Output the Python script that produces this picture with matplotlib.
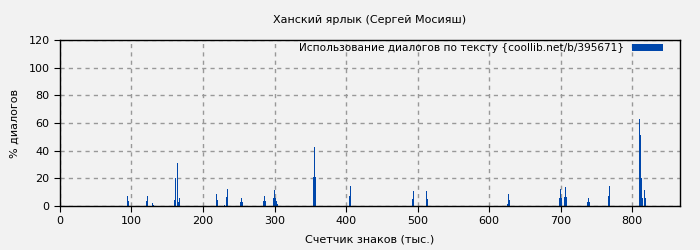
import matplotlib
matplotlib.use("Agg")
import matplotlib.pyplot as plt

# bar positions (thousands of chars) and dialogue share (%)
positions = [93.7, 95, 120, 121.5, 129, 130, 160, 161.5, 163, 164, 165.5, 167,
             217.5, 219, 230, 232, 233.5, 252, 253, 254.5, 284, 285.5, 287,
             298, 299.5, 301, 302, 303.5, 354, 355, 356.5, 404, 405.5,
             492.3, 493.7, 512, 513.5, 625, 626.5, 628,
             698, 699.3, 700.7, 705, 706.3, 707.7, 737, 738.5, 740,
             766.4, 767.8, 810, 811.5, 813, 814.5, 816, 817.5]
values = [7, 3.6, 3.6, 7, 2.2, 0.7, 4.3, 20, 31, 15, 2.9, 5.8,
          8.7, 4.3, 0.7, 6.5, 12.3, 2.9, 5.8, 2.9, 3.6, 7.2, 3.6,
          5.8, 11.6, 5.8, 3.6, 1.4, 21, 42.7, 21, 7.2, 14.5,
          5, 10.8, 10.8, 5, 1.4, 8.7, 4.3,
          5.8, 12.3, 5.8, 6.5, 13.7, 6.5, 2.9, 5.8, 2.9,
          7.2, 14.5, 63, 51.6, 20.2, 5.8, 11.6, 5.8]

title = "Ханский ярлык (Сергей Мосияш)"
legend_label = "Использование диалогов по тексту {coollib.net/b/395671}"
xticks = [0, 100, 200, 300, 400, 500, 600, 700, 800]
yticks = [0, 20, 40, 60, 80, 100, 120]

bg = "#f2f2f2"
fig = plt.figure(figsize=(7, 2.5), dpi=100, facecolor=bg)
ax = fig.add_axes([0.0857, 0.176, 0.8857, 0.664], facecolor=bg)

ax.bar(positions, values, width=1.4, color="#0047ab", align="edge",
       linewidth=0, label=legend_label)

ax.set_xlim(0, 867)
ax.set_ylim(0, 120)
ax.set_xticks(xticks)
ax.set_yticks(yticks)
ax.grid(True, color="#999999", linestyle=(0, (3, 3)), linewidth=1)
ax.set_axisbelow(True)
ax.tick_params(labelsize=8, length=4, direction="out")
for s in ax.spines.values():
    s.set_linewidth(1)
    s.set_color("black")

ax.set_title(title, fontsize=8, pad=12)
ax.set_xlabel("Счетчик знаков (тыс.)", fontsize=8, labelpad=6)
ax.set_ylabel("% диалогов", fontsize=8, labelpad=6)

ax.legend(loc="upper right", bbox_to_anchor=(0.977, 1.0), frameon=False,
          fontsize=7.6, markerfirst=False, handlelength=2.85,
          handleheight=0.55, borderaxespad=0, borderpad=0.3)

fig.savefig("out.png", dpi=100, facecolor=bg)
